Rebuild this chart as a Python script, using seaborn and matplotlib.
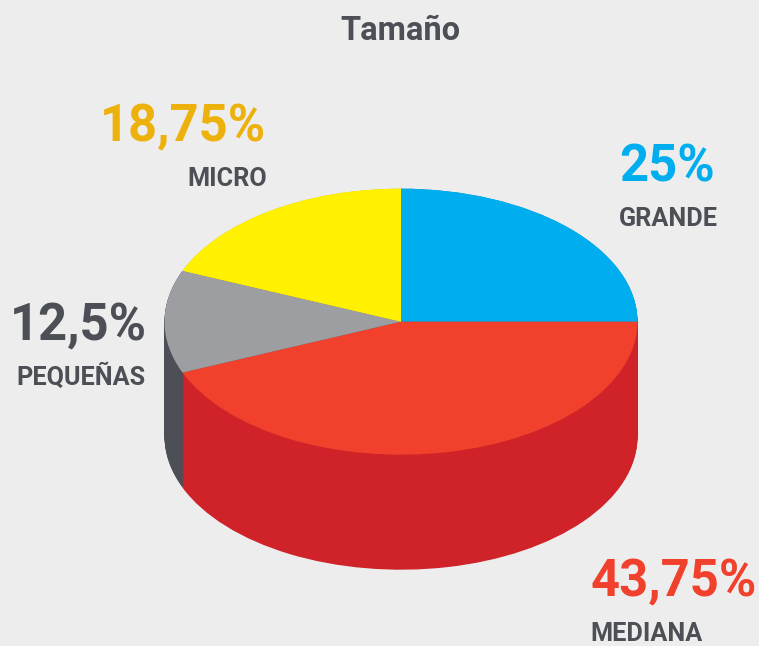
import numpy as np
import matplotlib
matplotlib.use("Agg")
import matplotlib.pyplot as plt
import seaborn as sns

title = "Tamaño"
categories = ["GRANDE", "MEDIANA", "PEQUEÑAS", "MICRO"]
values = [25, 43.75, 12.5, 18.75]
pct_labels = ["25%", "43,75%", "12,5%", "18,75%"]

top_colors = ["#00aeef", "#f1402b", "#9d9ea2", "#fff100"]
side_colors = ["#0089bd", "#cf2229", "#4c4f55", "#d4c800"]
text_colors = ["#00aeef", "#f1402b", "#4c4f55", "#edb10c"]
bg = "#ededed"
dark = "#4c4f55"

sns.set_theme(style="white", rc={"figure.facecolor": bg, "axes.facecolor": bg})
plt.rcParams["font.family"] = ["Roboto", "DejaVu Sans"]

fig = plt.figure(figsize=(7.59, 6.46), dpi=100)
ax = fig.add_axes([0, 0, 1, 1])

# the extruded wall is just the same pie drawn again lower down
depth = 115 / 133
for off in np.linspace(depth, 0, 116):
    ax.pie(values, colors=sns.color_palette(side_colors), startangle=90, counterclock=False,
           center=(0, -off), radius=1, wedgeprops={"linewidth": 0})
ax.pie(values, colors=sns.color_palette(top_colors), startangle=90, counterclock=False,
       center=(0, 0), radius=1, wedgeprops={"linewidth": 0})

# full figure axes, so the circle turns into the flat ellipse
ax.set_aspect("auto")
ax.set_xlim((0 - 401) / 236.5, (759 - 401) / 236.5)
ax.set_ylim((321.7 - 646) / 133, 321.7 / 133)
ax.axis("off")

def px(x, y):
    return x / 759, 1 - y / 646

fig.text(*px(400, 31), title, ha="center", va="center", fontsize=23.5, fontweight="bold", color=dark)

pct_pos = [(667, 168), (674, 582), (78, 326), (183, 127)]
cat_pos = [(668, 219), (647, 634), (81, 377), (227, 179)]
for i in range(len(categories)):
    fig.text(*px(*pct_pos[i]), pct_labels[i], ha="center", va="center", fontsize=36.5,
             fontweight="bold", color=text_colors[i])
    fig.text(*px(*cat_pos[i]), categories[i], ha="center", va="center", fontsize=18.2,
             fontweight="bold", color=dark)

fig.savefig("out.png", dpi=100, facecolor=bg)
